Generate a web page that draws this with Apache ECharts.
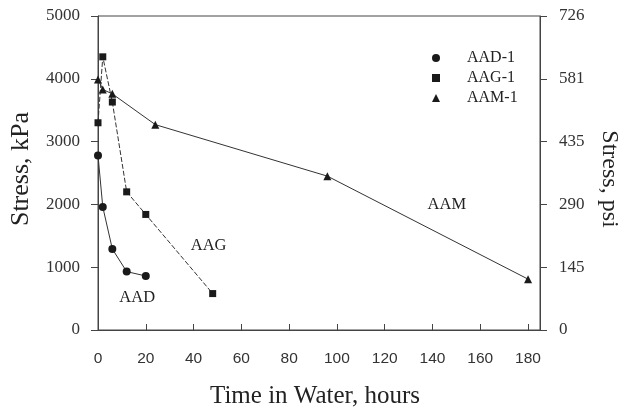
<!DOCTYPE html>
<html>
<head>
<meta charset="utf-8">
<script src="https://cdn.jsdelivr.net/npm/echarts@6/dist/echarts.min.js"></script>
<style>html,body{margin:0;padding:0;background:#fff;}#c{width:629px;height:414px;}</style>
</head>
<body>
<div id="c"></div>
<script>
// Data (hours, kPa)
var aadHours = [0, 2, 6, 12, 20];
var aadStress = [2780, 1960, 1290, 930, 860];
var aagHours = [0, 2, 6, 12, 20, 48];
var aagStress = [3300, 4350, 3630, 2200, 1840, 580];
var aamHours = [0, 2, 6, 24, 96, 180];
var aamStress = [3990, 3830, 3760, 3270, 2450, 810];
var psiLabels = ['0', '145', '290', '435', '581', '726'];
var seriesNames = ['AAD-1', 'AAG-1', 'AAM-1'];
var curveLabels = ['AAD', 'AAG', 'AAM'];
var curveLabelPos = [[16.4, 510], [46.3, 1340], [146, 1990]];

function pairs(xs, ys) { return xs.map(function (x, i) { return [x, ys[i]]; }); }

var serif = '"Liberation Serif", "DejaVu Serif", serif';
var sans = '"Liberation Sans", Arial, sans-serif';
var ink = '#1a1a1a';

function annot(i) {
  return {
    silent: true,
    symbol: 'circle',
    symbolSize: 1,
    itemStyle: { color: 'rgba(0,0,0,0)' },
    label: { show: true, position: 'inside', formatter: curveLabels[i], fontFamily: serif, fontSize: 16.5, color: '#222' },
    data: [{ coord: curveLabelPos[i] }]
  };
}

var chart = echarts.init(document.getElementById('c'), null, { renderer: 'canvas' });
chart.setOption({
  animation: false,
  backgroundColor: '#fff',
  grid: { left: 94, right: 81, top: 16, bottom: 81, show: true, borderColor: '#444', borderWidth: 1, backgroundColor: 'transparent' },
  legend: {
    orient: 'vertical', left: 427, top: 45, itemWidth: 8, itemHeight: 8, itemGap: 4,
    textStyle: { fontFamily: serif, fontSize: 16, color: '#222', padding: [0, 0, 0, 22] },
    data: [
      { name: seriesNames[0], icon: 'circle' },
      { name: seriesNames[1], icon: 'rect' },
      { name: seriesNames[2], icon: 'triangle' }
    ]
  },
  xAxis: {
    type: 'value', min: 0, max: 185, interval: 20,
    name: 'Time in Water, hours', nameLocation: 'middle', nameGap: 54,
    nameTextStyle: { fontFamily: serif, fontSize: 25, color: '#222', padding: [0, 8, 0, 0] },
    axisLine: { lineStyle: { color: '#444', width: 1 } },
    axisTick: { inside: true, length: 6, lineStyle: { color: '#444' } },
    axisLabel: { margin: 21, fontFamily: sans, fontSize: 15.5, color: '#333',
      formatter: function (v) { return v <= 180 ? String(v) : ''; } },
    splitLine: { show: false }
  },
  yAxis: [
    {
      type: 'value', min: 0, max: 5000, interval: 1000, position: 'left',
      name: 'Stress, kPa', nameLocation: 'middle', nameGap: 64, nameRotate: 90,
      nameTextStyle: { fontFamily: serif, fontSize: 26, color: '#222', padding: [0, 0, 0, 8] },
      axisLine: { show: true, lineStyle: { color: '#444', width: 1 } },
      axisTick: { show: true, inside: false, length: 7, lineStyle: { color: '#444' } },
      axisLabel: { margin: 18, fontFamily: serif, fontSize: 17, color: '#333',
        formatter: function (v) { return String(v); } },
      splitLine: { show: false }
    },
    {
      type: 'value', min: 0, max: 5000, interval: 1000, position: 'right',
      name: 'Stress, psi', nameLocation: 'middle', nameGap: 57, nameRotate: -90,
      nameTextStyle: { fontFamily: serif, fontSize: 24, color: '#222', padding: [0, 0, 0, 12] },
      axisLine: { show: true, lineStyle: { color: '#444', width: 1 } },
      axisTick: { show: true, inside: false, length: 7, lineStyle: { color: '#444' } },
      axisLabel: { margin: 19, fontFamily: serif, fontSize: 17, color: '#333',
        formatter: function (v) { return psiLabels[Math.round(v / 1000)]; } },
      splitLine: { show: false }
    }
  ],
  series: [
    {
      name: seriesNames[0], type: 'line', data: pairs(aadHours, aadStress),
      symbol: 'circle', symbolSize: 8,
      lineStyle: { color: '#333', width: 1 }, itemStyle: { color: ink },
      markPoint: annot(0)
    },
    {
      name: seriesNames[1], type: 'line', data: pairs(aagHours, aagStress),
      symbol: 'rect', symbolSize: 7,
      lineStyle: { color: '#333', width: 1, type: [5, 2] }, itemStyle: { color: ink },
      markPoint: annot(1)
    },
    {
      name: seriesNames[2], type: 'line', data: pairs(aamHours, aamStress),
      symbol: 'triangle', symbolSize: 8,
      lineStyle: { color: '#333', width: 1 }, itemStyle: { color: ink },
      markPoint: annot(2)
    }
  ]
});
</script>
</body>
</html>
